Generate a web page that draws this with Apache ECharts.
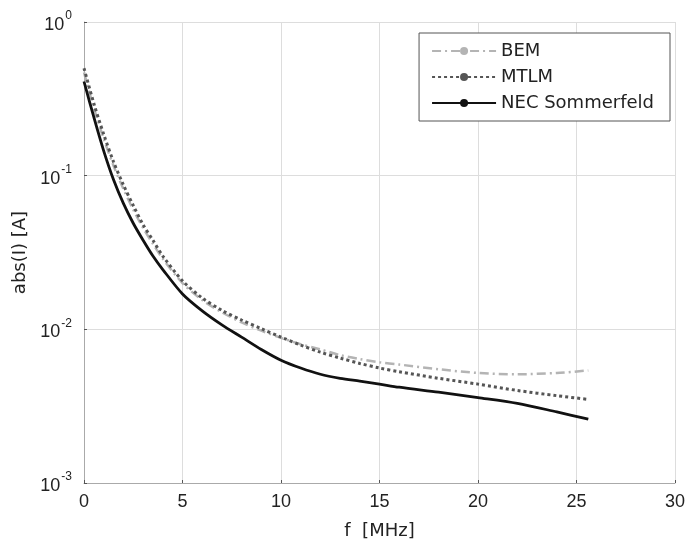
<!DOCTYPE html>
<html>
<head>
<meta charset="utf-8">
<script src="https://cdn.jsdelivr.net/npm/echarts@6/dist/echarts.min.js"></script>
<style>
  html, body { margin: 0; padding: 0; background: #fff; }
  #main { width: 688px; height: 545px; }
</style>
</head>
<body>
<div id="main"></div>
<script>
// frequency samples, MHz
var freq = [0, 0.5, 1, 1.5, 2, 2.5, 3, 3.5, 4, 5, 6, 7, 8, 9, 10, 11, 12, 13, 14, 15, 16, 18, 20, 22, 24, 25.6];
// current magnitude, A
var bem = [0.47, 0.275, 0.174, 0.116, 0.082, 0.060, 0.0457, 0.036, 0.0288, 0.020, 0.0155, 0.0129, 0.0111, 0.0098, 0.0088, 0.0080, 0.0074, 0.0068, 0.0064, 0.0061, 0.0059, 0.0055, 0.0052, 0.0051, 0.0052, 0.0054];
var mtlm = [0.50, 0.295, 0.186, 0.123, 0.087, 0.064, 0.048, 0.038, 0.030, 0.0207, 0.0160, 0.0133, 0.0115, 0.0101, 0.0089, 0.0079, 0.0071, 0.0065, 0.0060, 0.0056, 0.0053, 0.0048, 0.0044, 0.0040, 0.0037, 0.0035];
var nec = [0.41, 0.24, 0.145, 0.094, 0.066, 0.049, 0.038, 0.030, 0.0245, 0.017, 0.0132, 0.0107, 0.0089, 0.0074, 0.0063, 0.0056, 0.0051, 0.0048, 0.0046, 0.0044, 0.0042, 0.0039, 0.0036, 0.0033, 0.0029, 0.0026];
var xTicks = [0, 5, 10, 15, 20, 25, 30];
var yTicks = [0.001, 0.01, 0.1, 1];

function pairs(ys) {
  return freq.map(function (f, i) { return [f, ys[i]]; });
}

var font = 'Liberation Sans, Arial, sans-serif';
var wide = 'DejaVu Sans, sans-serif';
var myChart = echarts.init(document.getElementById('main'));

var option = {
  backgroundColor: '#fff',
  animation: false,
  grid: { left: 84, right: 11, top: 22, bottom: 58 },
  legend: {
    orient: 'vertical',
    right: 18,
    top: 33,
    itemWidth: 64,
    itemHeight: 10,
    itemGap: 8,
    padding: [9, 16, 9, 12],
    borderColor: '#555',
    borderWidth: 1,
    backgroundColor: '#fff',
    textStyle: { fontFamily: wide, fontSize: 18, color: '#222' },
    data: ['BEM', 'MTLM', 'NEC Sommerfeld']
  },
  xAxis: {
    type: 'value',
    min: 0,
    max: 30,
    interval: 5,
    name: 'f  [MHz]',
    nameLocation: 'middle',
    nameGap: 39,
    nameTextStyle: { fontFamily: wide, fontSize: 18, color: '#222' },
    axisLine: { show: true, lineStyle: { color: '#aaa' } },
    axisTick: { show: true, inside: true, length: 3, lineStyle: { color: '#555' } },
    axisLabel: {
      fontFamily: font, fontSize: 18, color: '#222', margin: 10,
      formatter: function (v) { return xTicks.indexOf(v) >= 0 ? String(v) : ''; }
    },
    splitLine: { show: true, lineStyle: { color: '#ddd' } }
  },
  yAxis: {
    type: 'log',
    logBase: 10,
    min: 0.001,
    max: 1,
    name: 'abs(I) [A]',
    nameLocation: 'middle',
    nameGap: 55,
    nameTextStyle: { fontFamily: wide, fontSize: 18, color: '#222' },
    axisLine: { show: true, lineStyle: { color: '#aaa' } },
    axisTick: { show: true, inside: true, length: 3, lineStyle: { color: '#555' } },
    minorTick: { show: false },
    axisLabel: {
      margin: 12,
      formatter: function (v) {
        var e = Math.round(Math.log10(v));
        return '{b|10}{s|' + e + '}';
      },
      rich: {
        b: { fontFamily: font, fontSize: 18, color: '#222', verticalAlign: 'bottom' },
        s: { fontFamily: font, fontSize: 12, color: '#222', verticalAlign: 'top', padding: [0, 0, 12, 1] }
      }
    },
    splitLine: { show: true, lineStyle: { color: '#ddd' } }
  },
  series: [
    {
      name: 'BEM',
      type: 'line',
      data: pairs(bem),
      smooth: 0.3,
      symbol: 'circle',
      symbolSize: 4,
      showSymbol: false,
      itemStyle: { color: '#b4b4b4' },
      lineStyle: { color: '#b4b4b4', width: 2.5, type: [9, 4, 2, 4] },
      z: 2
    },
    {
      name: 'MTLM',
      type: 'line',
      data: pairs(mtlm),
      smooth: 0.3,
      symbol: 'circle',
      symbolSize: 5,
      showSymbol: false,
      itemStyle: { color: '#555' },
      lineStyle: { color: '#555', width: 3, type: [3, 3] },
      z: 3
    },
    {
      name: 'NEC Sommerfeld',
      type: 'line',
      data: pairs(nec),
      smooth: 0.3,
      symbol: 'none',
      itemStyle: { color: '#111' },
      lineStyle: { color: '#111', width: 2.8 },
      z: 4
    }
  ]
};

myChart.setOption(option);
</script>
</body>
</html>
